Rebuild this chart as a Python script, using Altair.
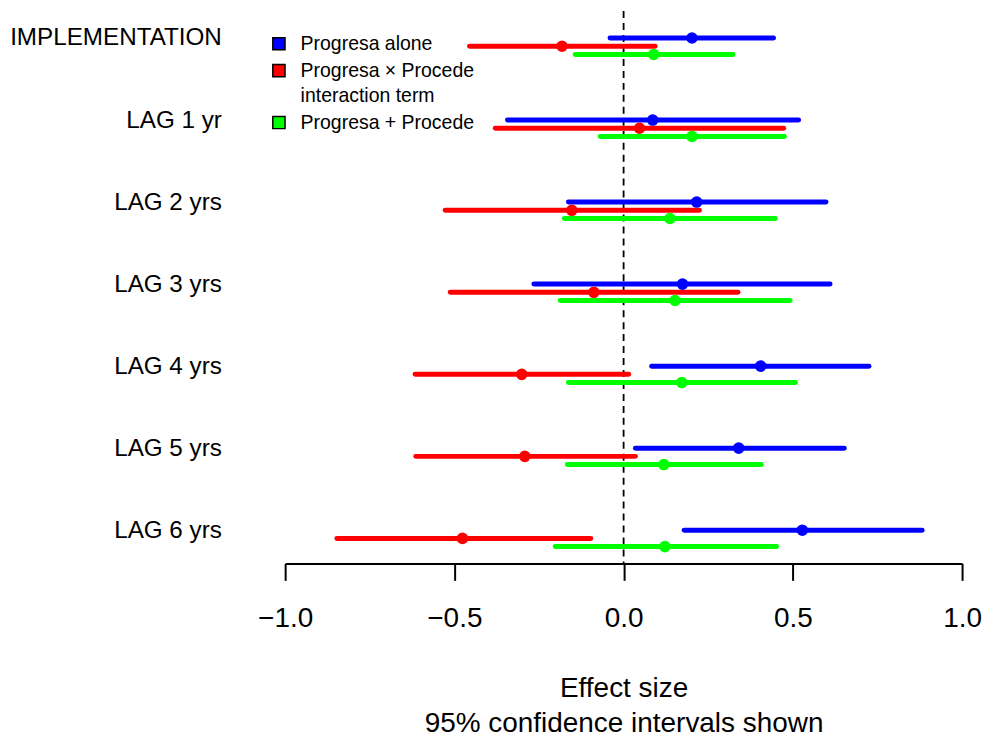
import json
import altair as alt
import pandas as pd

# ---- data ----
rows = ["IMPLEMENTATION", "LAG 1 yr", "LAG 2 yrs", "LAG 3 yrs",
        "LAG 4 yrs", "LAG 5 yrs", "LAG 6 yrs"]
series = ["Progresa alone", "Progresa × Procede\ninteraction term", "Progresa + Procede"]
colors = ["#0000FF", "#FF0000", "#00FF00"]

alone_est = [0.202, 0.086, 0.216, 0.174, 0.405, 0.340, 0.528]
alone_lo = [-0.040, -0.343, -0.163, -0.265, 0.083, 0.035, 0.179]
alone_hi = [0.443, 0.517, 0.598, 0.610, 0.725, 0.652, 0.882]

inter_est = [-0.182, 0.047, -0.153, -0.088, -0.301, -0.292, -0.476]
inter_lo = [-0.455, -0.379, -0.527, -0.512, -0.616, -0.614, -0.847]
inter_hi = [0.093, 0.473, 0.224, 0.338, 0.015, 0.035, -0.097]

plus_est = [0.089, 0.202, 0.137, 0.152, 0.172, 0.119, 0.122]
plus_lo = [-0.143, -0.069, -0.175, -0.187, -0.163, -0.166, -0.202]
plus_hi = [0.323, 0.475, 0.448, 0.492, 0.508, 0.407, 0.452]

x_ticks = [-1.0, -0.5, 0.0, 0.5, 1.0]
ref_line = [0.0]

# ---- build table ----
est = [alone_est, inter_est, plus_est]
lo = [alone_lo, inter_lo, plus_lo]
hi = [alone_hi, inter_hi, plus_hi]
records = []
for s_i, s in enumerate(series):
    for r_i, r in enumerate(rows):
        records.append({
            "row": r, "series": s, "order": s_i,
            "ypos": r_i + 0.1 * s_i,
            "est": est[s_i][r_i], "lo": lo[s_i][r_i], "hi": hi[s_i][r_i],
        })
df = pd.DataFrame(records)

FONT = "Liberation Sans"

xscale = alt.Scale(domain=[-1, 1], nice=False, zero=False)
yscale = alt.Scale(domain=[-0.328, 6.405], reverse=True, nice=False, zero=False)

xaxis = alt.Axis(
    values=x_ticks, format=".1f", grid=False,
    title=["Effect size", "95% confidence intervals shown"],
    titleFontSize=28, titleFontWeight="normal", titleColor="black",
    titleFont=FONT, titleLineHeight=36, titlePadding=42,
    labelFontSize=28, labelColor="black", labelFont=FONT, labelPadding=24,
    labelFlush=False, labelOverlap=False,
    tickSize=17, tickWidth=2, tickColor="black",
    domainWidth=2, domainColor="black",
)
yaxis = alt.Axis(
    values=list(range(len(rows))),
    labelExpr=json.dumps(rows) + "[round(datum.value)]",
    title=None, grid=False, domain=False, ticks=False,
    labelFontSize=24.3, labelColor="black", labelFont=FONT, labelLimit=400,
    labelPadding=64, labelAlign="right", labelBaseline="middle",
)

color_scale = alt.Scale(domain=series, range=colors)
legend = alt.Legend(
    title=None, orient="none", legendX=-16, legendY=23,
    symbolType="square", symbolSize=150, symbolStrokeColor="black",
    symbolStrokeWidth=1.5, symbolOpacity=1,
    labelFontSize=19.5, labelFont=FONT, labelColor="black", labelOffset=12,
    labelExpr="split(datum.label, '\\n')", rowPadding=6, padding=0,
    labelLimit=400,
)

base = alt.Chart(df)

ci = base.mark_rule(strokeWidth=5, strokeCap="round").encode(
    x=alt.X("lo:Q", scale=xscale, axis=xaxis),
    x2="hi:Q",
    y=alt.Y("ypos:Q", scale=yscale, axis=yaxis),
    color=alt.Color("series:N", scale=color_scale, legend=None),
    order="order:Q",
)

pts = base.mark_circle(size=135, opacity=1).encode(
    x=alt.X("est:Q", scale=xscale, axis=xaxis),
    y=alt.Y("ypos:Q", scale=yscale, axis=yaxis),
    color=alt.Color("series:N", scale=color_scale, legend=legend),
    order="order:Q",
)

zero = alt.Chart(pd.DataFrame({"ref": ref_line})).mark_rule(
    strokeDash=[7, 5], strokeWidth=1.8, color="black"
).encode(x=alt.X("ref:Q", scale=xscale, axis=xaxis))

chart = alt.layer(zero, ci, pts).resolve_legend(color="independent").properties(
    width=679, height=554,
    autosize=alt.AutoSizeParams(type="none"),
    padding={"left": 278, "top": 2, "right": 21, "bottom": 175},
).configure(
    font=FONT, style={"guide-label": {"lineHeight": 25}},
    view=alt.ViewConfig(stroke=None),
)

chart.save("out.html", embed_options={"renderer": "svg", "actions": False})
